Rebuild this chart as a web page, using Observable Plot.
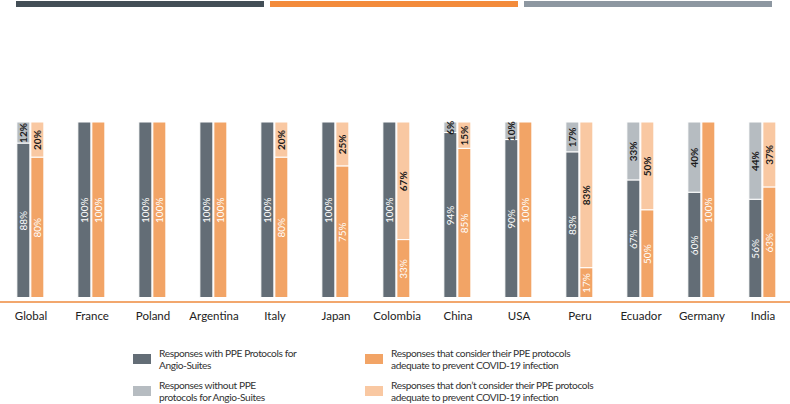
<!DOCTYPE html>
<html><head><meta charset="utf-8">
<script src="https://cdn.jsdelivr.net/npm/d3@7"></script>
<script src="https://cdn.jsdelivr.net/npm/@observablehq/plot@0.6"></script>
<style>
body{margin:0;background:#fff;font-family:Lato,sans-serif;}
#wrap{position:relative;width:790px;height:404px;overflow:hidden;}
#strips{position:absolute;top:1px;left:16px;display:flex;gap:6px;}
#strips div{width:248px;height:6px;}
#chart{position:absolute;top:0;left:0;}
#legend{position:absolute;left:133px;top:346px;display:grid;grid-template-columns:232px 320px;row-gap:6px;}
.item{display:flex;align-items:center;height:26px;}
.sw{width:18px;height:10px;margin-right:8px;flex:none;}
.lab{font-size:10.2px;line-height:12.5px;letter-spacing:-0.4px;color:#333;white-space:pre-line;}
</style></head>
<body>
<div id="wrap">
  <div id="chart"></div>
  <div id="strips"></div>
  <div id="legend"></div>
</div>
<script>
const countries = ["Global","France","Poland","Argentina","Italy","Japan","Colombia","China","USA","Peru","Ecuador","Germany","India"];
const ppeWith     = [88,100,100,100,100,100,100,94,90,83,67,60,56];
const ppeWithout  = [12,0,0,0,0,0,0,6,10,17,33,40,44];
const adequate    = [80,100,100,100,80,75,33,85,100,17,50,100,63];
const notAdequate = [20,0,0,0,20,25,67,15,0,83,50,0,37];

const partKeys   = ["with","without","adequate","notAdequate"];
const partColors = ["#636d76","#b6bcc1","#f2a466","#f9c8a2"];
const partLabels = [
  "Responses with PPE Protocols for\nAngio-Suites",
  "Responses without PPE\nprotocols for Angio-Suites",
  "Responses that consider their PPE protocols\nadequate to prevent COVID-19 infection",
  "Responses that don\u2019t consider their PPE protocols\nadequate to prevent COVID-19 infection"
];
const stripColors = ["#434e56","#f38b3b","#8d97a1"];

const data = [];
countries.forEach((c, i) => {
  data.push({country: c, bar: "ppe", part: "with", value: ppeWith[i]});
  data.push({country: c, bar: "ppe", part: "without", value: ppeWithout[i]});
  data.push({country: c, bar: "adq", part: "adequate", value: adequate[i]});
  data.push({country: c, bar: "adq", part: "notAdequate", value: notAdequate[i]});
});
const isDark = p => p === "with" || p === "adequate";

const chart = Plot.plot({
  width: 790, height: 340,
  marginTop: 122, marginBottom: 42.5, marginLeft: -4.85, marginRight: -7.2,
  style: {fontFamily: "Lato, sans-serif", fontSize: "11.5px", color: "#222", background: "transparent"},
  fx: {domain: countries, padding: 0, axis: "bottom", label: null, tickSize: 0, tickPadding: 14},
  x: {domain: ["ppe","adq"], paddingInner: 0.0667, paddingOuter: 1.09, axis: null},
  y: {domain: [0, 100], axis: null},
  color: {domain: partKeys, range: partColors},
  marks: [
    Plot.ruleY([0], {stroke: "#ee8a3c", strokeWidth: 1.5, dy: 4}),
    Plot.barY(data, Plot.stackY({filter: d => d.value > 0, fx: "country", x: "bar", y: "value", fill: "part", stroke: "white", strokeWidth: 1})),
    Plot.text(data, Plot.stackY({fx: "country", x: "bar", y: "value",
      text: d => (d.value > 0 && isDark(d.part)) ? d.value + "%" : "",
      rotate: -90, fill: "white", fontSize: 10})),
    Plot.text(data, Plot.stackY({fx: "country", x: "bar", y: "value",
      text: d => (d.value > 0 && !isDark(d.part)) ? d.value + "%" : "",
      rotate: -90, fill: "#1a1a1a", fontSize: 10, fontWeight: "bold"}))
  ]
});
document.getElementById("chart").appendChild(chart);

const strips = document.getElementById("strips");
stripColors.forEach(c => { const d = document.createElement("div"); d.style.background = c; strips.appendChild(d); });

const legend = document.getElementById("legend");
[0, 2, 1, 3].forEach(i => {
  const item = document.createElement("div"); item.className = "item";
  const sw = document.createElement("div"); sw.className = "sw"; sw.style.background = partColors[i];
  const lab = document.createElement("div"); lab.className = "lab"; lab.textContent = partLabels[i];
  item.appendChild(sw); item.appendChild(lab); legend.appendChild(item);
});
</script>
</body></html>
